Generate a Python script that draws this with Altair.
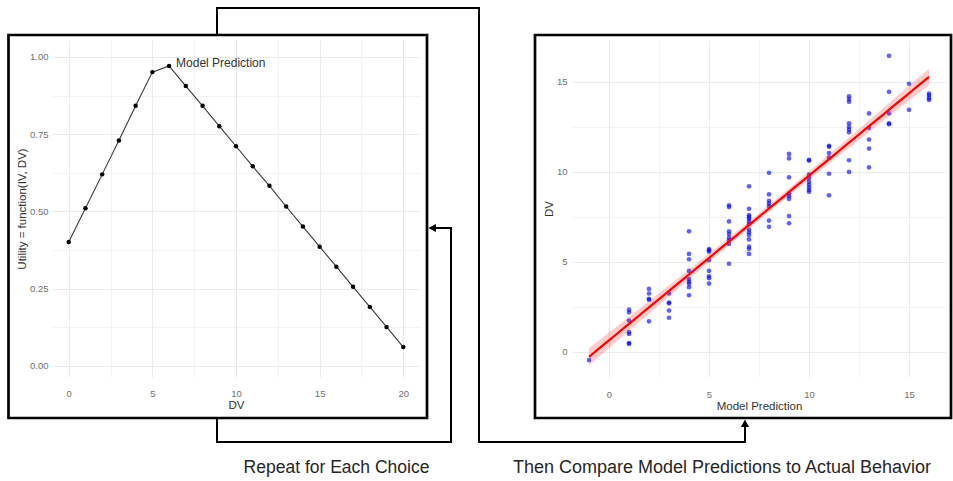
import altair as alt
import numpy as np
import pandas as pd

# ---------------- data: left panel (utility curve) ----------------
dv_values = list(range(21))
utility_values = [0.401, 0.510, 0.620, 0.730, 0.842, 0.951, 0.971, 0.906, 0.842,
                  0.776, 0.711, 0.646, 0.583, 0.516, 0.451, 0.386, 0.321, 0.256,
                  0.191, 0.126, 0.061]
peak_dv = 6
peak_label = "Model Prediction"

# ---------------- data: right panel (observed DV vs model prediction) ----------------
prediction_levels = [-1, 1, 2, 3, 4, 5, 6, 7, 8, 9, 10, 11, 12, 13, 14, 15, 16]
observed_dv = [
    [-0.45],
    [2.35, 2.2, 1.75, 1.1, 1.0, 0.5, 0.45],
    [3.5, 3.25, 2.95, 2.9, 1.7],
    [3.25, 2.75, 2.7, 2.3, 1.9],
    [6.7, 5.45, 5.15, 4.5, 4.05, 3.9, 3.8, 3.6, 3.15],
    [5.72, 5.65, 5.57, 5.1, 4.5, 4.2, 4.1, 3.8],
    [8.15, 8.05, 7.25, 6.7, 6.55, 6.35, 6.2, 6.0, 4.9],
    [9.2, 7.95, 7.6, 7.5, 7.4, 7.25, 7.1, 6.8, 6.65, 6.5, 6.25, 5.85, 5.72, 5.45],
    [9.95, 8.75, 8.4, 8.25, 8.1, 7.3, 6.95],
    [11.0, 10.75, 9.7, 8.8, 8.65, 8.5, 7.55, 7.15],
    [10.67, 10.63, 9.85, 9.65, 9.45, 9.3, 9.15, 9.0, 8.9],
    [11.45, 11.4, 11.05, 10.8, 9.9, 8.7],
    [14.2, 14.05, 13.9, 12.7, 12.5, 12.35, 12.2, 10.65, 10.0],
    [13.25, 12.45, 11.8, 11.3, 10.25],
    [16.45, 14.45, 13.25, 12.7, 12.65],
    [14.9, 13.45],
    [14.35, 14.25, 14.1, 14.0],
]

caption_left = "Repeat for Each Choice"
caption_right = "Then Compare Model Predictions to Actual Behavior"

# ---------------- tables ----------------
left_df = pd.DataFrame({"DV": dv_values, "Utility": utility_values})
peak_df = left_df[left_df["DV"] == peak_dv].assign(label=peak_label)

xs, ys = [], []
for p, obs in zip(prediction_levels, observed_dv):
    for o in obs:
        xs.append(p)
        ys.append(o)
scatter_df = pd.DataFrame({"pred": xs, "dv": ys})

# linear fit with 95% confidence band (like geom_smooth(method = "lm"))
x = np.array(xs, dtype=float)
y = np.array(ys, dtype=float)
b1, b0 = np.polyfit(x, y, 1)
n = len(x)
resid = y - (b0 + b1 * x)
s = np.sqrt(np.sum(resid ** 2) / (n - 2))
sxx = np.sum((x - x.mean()) ** 2)
grid = np.linspace(x.min(), x.max(), 80)
fit = b0 + b1 * grid
se = s * np.sqrt(1.0 / n + (grid - x.mean()) ** 2 / sxx)
t_crit = 1.98
fit_df = pd.DataFrame({"pred": grid, "fit": fit,
                       "lo": fit - t_crit * se, "hi": fit + t_crit * se})

# ---------------- layout (pixels) ----------------
OX, OY = 52, 40          # left plot-area origin on the canvas
W_L, W_R, H = 368, 374, 337
GAP = 572 - (OX + W_L)
CANVAS_W, CANVAS_H = 953, 481

def px(cx):
    return cx - OX

def py(cy):
    return cy - OY

one = pd.DataFrame({"k": [0]})

def seg(x1, y1, x2, y2, width=2):
    return alt.Chart(one).mark_rule(color="black", strokeWidth=width, strokeCap="square").encode(
        x=alt.value(px(x1)), y=alt.value(py(y1)),
        x2=alt.value(px(x2)), y2=alt.value(py(y2)))

def frame(x1, y1, x2, y2):
    return alt.Chart(one).mark_rect(fill="transparent", stroke="black", strokeWidth=2.7).encode(
        x=alt.value(px(x1)), y=alt.value(py(y1)),
        x2=alt.value(px(x2)), y2=alt.value(py(y2)))

def arrow(cx, cy, path):
    return alt.Chart(one).mark_point(filled=True, color="black", opacity=1, shape=path, size=220).encode(
        x=alt.value(px(cx)), y=alt.value(py(cy)))

def caption(cx, cy, text, size):
    return alt.Chart(one).mark_text(text=text, font="Liberation Sans", fontSize=size,
                                    color="#262626", align="center", baseline="alphabetic").encode(
        x=alt.value(px(cx)), y=alt.value(py(cy)))

canvas = alt.Chart(one).mark_rect(opacity=0).encode(
    x=alt.value(px(0)), y=alt.value(py(0)),
    x2=alt.value(px(CANVAS_W)), y2=alt.value(py(CANVAS_H)))

YB = 442
decor = [
    canvas,
    frame(8.5, 35, 427, 418),
    frame(535, 35, 951, 418),
    # top connector from left panel to right panel
    seg(217, 35, 217, 8), seg(217, 8, 479, 8), seg(479, 8, 479, YB),
    seg(479, YB, 745, YB), seg(745, YB, 745, 425),
    # bottom loop back to left panel
    seg(217, 418, 217, YB), seg(217, YB, 451, YB), seg(451, YB, 451, 228),
    seg(451, 228, 433, 228),
    arrow(428.5, 228, "M0,0 L1,-0.55 L1,0.55 Z"),
    arrow(745, 419.5, "M0,0 L-0.55,1 L0.55,1 Z"),
    caption(336.5, 473, caption_left, 17.5),
    caption(722, 473, caption_right, 18),
]

def minor_axis(title, values, major, fmt, lpad, tpad):
    return alt.Axis(
        title=title, values=values, labelOverlap=False,
        labelExpr=f"abs(datum.value % {major}) < 1e-9 ? format(datum.value, '{fmt}') : ''",
        gridWidth={"condition": {"test": f"abs(datum.value % {major}) < 1e-9", "value": 1.0}, "value": 0.6},
        labelPadding=lpad, titlePadding=tpad)

lx = alt.X("DV:Q", scale=alt.Scale(domain=[-1, 21], nice=False, zero=False),
           axis=minor_axis("DV", [0, 2.5, 5, 7.5, 10, 12.5, 15, 17.5, 20], 5, "d", 11, 2))
ly = alt.Y("Utility:Q", scale=alt.Scale(domain=[-0.036, 1.055], nice=False, zero=False),
           axis=minor_axis("Utility = function(IV, DV)",
                           [0, 0.125, 0.25, 0.375, 0.5, 0.625, 0.75, 0.875, 1.0], 0.25, ".2f", 4, 2))

curve = alt.Chart(left_df).mark_line(color="#3a3a3a", strokeWidth=1.1).encode(x=lx, y=ly)
dots = alt.Chart(left_df).mark_circle(color="black", size=20, opacity=1).encode(x=lx, y=ly)
peak_text = alt.Chart(peak_df).mark_text(align="left", baseline="middle", dx=7, dy=-3,
                                         fontSize=12, font="Liberation Sans", color="#333333").encode(
    x=lx, y=ly, text="label:N")

left = alt.layer(*decor, curve, dots, peak_text).properties(width=W_L, height=H)

rx = alt.X("pred:Q", scale=alt.Scale(domain=[-1.85, 16.85], nice=False, zero=False),
           axis=minor_axis("Model Prediction", [0, 2.5, 5, 7.5, 10, 12.5, 15], 5, "d", 12, 2))
ry_axis = minor_axis("DV", [0, 2.5, 5, 7.5, 10, 12.5, 15], 5, "d", 5, 1.5)
ry_scale = alt.Scale(domain=[-1.39, 17.33], nice=False, zero=False)

pts = alt.Chart(scatter_df).mark_circle(color="#0000ff", size=22, opacity=0.62).encode(
    x=rx, y=alt.Y("dv:Q", scale=ry_scale, axis=ry_axis))
band = alt.Chart(fit_df).mark_area(color="red", opacity=0.2).encode(
    x=rx, y=alt.Y("lo:Q", scale=ry_scale, axis=ry_axis), y2="hi:Q")
line = alt.Chart(fit_df).mark_line(color="red", strokeWidth=2.2).encode(
    x=rx, y=alt.Y("fit:Q", scale=ry_scale, axis=ry_axis))

right = alt.layer(pts, band, line).properties(width=W_R, height=H)

chart = alt.hconcat(left, right, spacing=GAP, bounds="flush").properties(
    padding=0, background="white"
).configure_view(stroke=None).configure_axis(
    domain=False, ticks=False,
    labelFont="Liberation Sans", labelFontSize=9.5, labelColor="#707070",
    titleFont="Liberation Sans", titleFontSize=11.5, titleColor="#333333", titleFontWeight="normal",
    gridColor="#ebebeb",
)

chart.save("out.html", embed_options={"renderer": "svg", "actions": False})
